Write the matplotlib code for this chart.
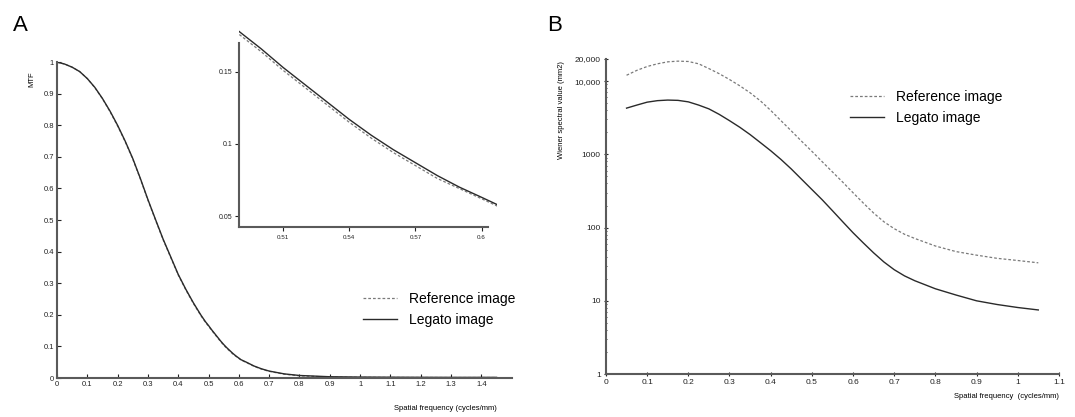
import numpy as np
import matplotlib.pyplot as plt
from matplotlib.ticker import FixedLocator, LogLocator, NullFormatter

plt.rcParams['font.family'] = ['Liberation Sans', 'DejaVu Sans']

# Panel A: MTF curves (inset used for 0.49-0.61)
mtf_freq = [0, 0.025, 0.05, 0.075, 0.1, 0.125, 0.15, 0.175, 0.2, 0.225, 0.25, 0.275,
            0.3, 0.325, 0.35, 0.375, 0.4, 0.425, 0.45, 0.475, 0.49, 0.5, 0.51, 0.52,
            0.53, 0.54, 0.55, 0.56, 0.57, 0.58, 0.59, 0.6, 0.607, 0.625, 0.65, 0.675,
            0.7, 0.75, 0.8, 0.9, 1.0, 1.1, 1.2, 1.3, 1.45]
mtf_legato = [1.0, 0.994, 0.984, 0.97, 0.948, 0.92, 0.885, 0.845, 0.80, 0.75, 0.695,
              0.632, 0.565, 0.502, 0.44, 0.384, 0.328, 0.281, 0.238, 0.199, 0.178,
              0.166, 0.153, 0.141, 0.129, 0.117, 0.106, 0.096, 0.087, 0.078, 0.070,
              0.063, 0.058, 0.050, 0.038, 0.029, 0.022, 0.013, 0.008, 0.004, 0.003,
              0.0025, 0.0022, 0.002, 0.002]
mtf_reference = [1.0, 0.994, 0.984, 0.97, 0.948, 0.919, 0.884, 0.843, 0.798, 0.748,
                 0.693, 0.630, 0.563, 0.500, 0.438, 0.382, 0.326, 0.279, 0.236, 0.197,
                 0.176, 0.164, 0.151, 0.139, 0.127, 0.115, 0.104, 0.094, 0.085, 0.076,
                 0.069, 0.062, 0.057, 0.049, 0.037, 0.028, 0.021, 0.012, 0.007, 0.003,
                 0.002, 0.0018, 0.0016, 0.0015, 0.0015]

# Panel B: Wiener spectra
wps_freq = [0.05, 0.075, 0.1, 0.125, 0.15, 0.175, 0.2, 0.225, 0.25, 0.275, 0.3, 0.325,
            0.35, 0.375, 0.4, 0.425, 0.45, 0.475, 0.5, 0.525, 0.55, 0.575, 0.6, 0.625,
            0.65, 0.675, 0.7, 0.725, 0.75, 0.8, 0.85, 0.9, 0.95, 1.0, 1.05]
wps_reference = [12000, 14000, 15800, 17200, 18300, 18700, 18500, 17200, 14800, 12600,
                 10500, 8610, 6920, 5370, 3980, 2880, 2090, 1510, 1100, 794, 575, 417,
                 299, 216, 158, 120, 96.6, 81, 71, 56, 47, 42, 38, 35.5, 33]
wps_legato = [4270, 4700, 5150, 5400, 5500, 5450, 5200, 4700, 4170, 3510, 2880, 2340,
              1860, 1445, 1120, 851, 631, 457, 331, 240, 170, 120, 85, 61.7, 45.2, 33.9,
              26.6, 21.9, 18.8, 14.6, 12.0, 10, 8.9, 8.1, 7.5]

mtf_xticks = [0, 0.1, 0.2, 0.3, 0.4, 0.5, 0.6, 0.7, 0.8, 0.9, 1, 1.1, 1.2, 1.3, 1.4]
mtf_xlabels = ['0', '0.1', '0.2', '0.3', '0.4', '0.5', '0.6', '0.7', '0.8', '0.9',
               '1', '1.1', '1.2', '1.3', '1.4']
mtf_yticks = [0, 0.1, 0.2, 0.3, 0.4, 0.5, 0.6, 0.7, 0.8, 0.9, 1]
mtf_ylabels = ['0', '0.1', '0.2', '0.3', '0.4', '0.5', '0.6', '0.7', '0.8', '0.9', '1']
inset_xticks = [0.51, 0.54, 0.57, 0.6]
inset_xlabels = ['0.51', '0.54', '0.57', '0.6']
inset_yticks = [0.05, 0.1, 0.15]
inset_ylabels = ['0.05', '0.1', '0.15']
wps_xticks = [0, 0.1, 0.2, 0.3, 0.4, 0.5, 0.6, 0.7, 0.8, 0.9, 1, 1.1]
wps_xlabels = ['0', '0.1', '0.2', '0.3', '0.4', '0.5', '0.6', '0.7', '0.8', '0.9', '1', '1.1']
wps_yticks = [1, 10, 100, 1000, 10000, 20000]
wps_ylabels = ['1', '10', '100', '1000', '10,000', '20,000']

spine_col = '#5a5a5a'
ref_col = '#7a7a7a'
leg_col = '#2a2a2a'
dash = (0, (2.2, 1.6))


def style_axes(ax, fs):
    for s in ['top', 'right']:
        ax.spines[s].set_visible(False)
    for s in ['left', 'bottom']:
        ax.spines[s].set_color(spine_col)
        ax.spines[s].set_linewidth(1.5)
    ax.tick_params(labelsize=fs, colors='#222222', length=3, width=0.8, pad=2)


fig = plt.figure(figsize=(10.75, 4.17), dpi=100)

# ---- Panel A
axA = fig.add_axes([0.053, 0.0935, 0.423, 0.7575])
axA.plot(mtf_freq, mtf_reference, color=ref_col, lw=0.9, ls=dash, label='Reference image')
axA.plot(mtf_freq, mtf_legato, color=leg_col, lw=1.0, label='Legato image')
axA.set_xlim(0, 1.5)
axA.set_ylim(0, 1)
axA.set_xticks(mtf_xticks)
axA.set_xticklabels(mtf_xlabels)
axA.set_yticks(mtf_yticks)
axA.set_yticklabels(mtf_ylabels)
style_axes(axA, 5.5)
axA.tick_params(direction='in')
axA.legend(loc='upper left', bbox_to_anchor=(0.338, 0.300), bbox_transform=fig.transFigure,
           frameon=False, fontsize=10, handlelength=2.4, handletextpad=0.9,
           labelspacing=0.5, borderpad=0, borderaxespad=0)
fig.text(0.012, 0.965, 'A', fontsize=16, va='top')
fig.text(0.03, 0.81, 'MTF', fontsize=5.5, rotation=90, va='center', ha='center')
fig.text(0.462, 0.02, 'Spatial frequency (cycles/mm)', fontsize=5.5, ha='right', va='center')

# ---- inset
axI = fig.add_axes([0.2223, 0.4556, 0.240, 0.4761])
axI.plot(mtf_freq, mtf_reference, color=ref_col, lw=0.9, ls=dash)
axI.plot(mtf_freq, mtf_legato, color=leg_col, lw=1.0)
axI.set_xlim(0.49, 0.607)
axI.set_ylim(0.0424, 0.18)
axI.set_xticks(inset_xticks)
axI.set_xticklabels(inset_xlabels)
axI.set_yticks(inset_yticks)
axI.set_yticklabels(inset_ylabels)
style_axes(axI, 5)
axI.tick_params(axis='x', labelsize=4.5, pad=3)
axI.spines['left'].set_bounds(0.0424, 0.170)
axI.spines['bottom'].set_bounds(0.49, 0.603)
axI.patch.set_alpha(0)

# ---- Panel B
axB = fig.add_axes([0.5637, 0.103, 0.4213, 0.7555])
axB.semilogy(wps_freq, wps_reference, color=ref_col, lw=0.9, ls=dash, label='Reference image')
axB.semilogy(wps_freq, wps_legato, color=leg_col, lw=1.0, label='Legato image')
axB.set_xlim(0, 1.1)
axB.set_ylim(1, 20000)
axB.set_xticks(wps_xticks)
axB.set_xticklabels(wps_xlabels)
axB.yaxis.set_major_locator(FixedLocator(wps_yticks))
axB.set_yticklabels(wps_ylabels)
axB.yaxis.set_minor_locator(LogLocator(base=10, subs=np.arange(2, 10)))
axB.yaxis.set_minor_formatter(NullFormatter())
style_axes(axB, 6)
axB.tick_params(direction='inout', length=3.5)
axB.tick_params(which='minor', direction='inout', length=2, width=0.6, colors='#222222')
axB.legend(loc='upper left', bbox_to_anchor=(0.791, 0.785), bbox_transform=fig.transFigure,
           frameon=False, fontsize=10, handlelength=2.4, handletextpad=0.9,
           labelspacing=0.5, borderpad=0, borderaxespad=0)
fig.text(0.509, 0.965, 'B', fontsize=16, va='top')
fig.text(0.522, 0.735, 'Wiener spectral value (mm2)', fontsize=5.5, rotation=90,
         va='center', ha='center')
fig.text(0.985, 0.05, 'Spatial frequency  (cycles/mm)', fontsize=5.5, ha='right', va='center')

fig.savefig('out.png', dpi=100)
